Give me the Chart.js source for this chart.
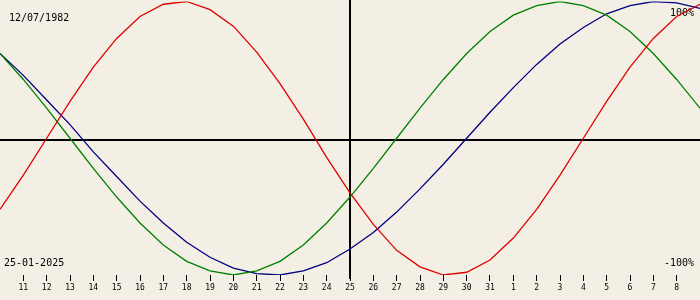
<!DOCTYPE html>
<html>
<head>
<meta charset="utf-8">
<script src="https://cdn.jsdelivr.net/npm/chart.js@4/dist/chart.umd.min.js"></script>
<style>
  html, body { margin: 0; padding: 0; background: #f3efe4; }
  canvas { display: block; }
</style>
</head>
<body>
<canvas id="bio" width="700" height="300"></canvas>
<script>
// days relative to today (25-01-2025)
const dayOffsets = [-15, -14, -13, -12, -11, -10, -9, -8, -7, -6, -5, -4, -3, -2, -1, 0,
  1, 2, 3, 4, 5, 6, 7, 8, 9, 10, 11, 12, 13, 14, 15];

// percent values
const physical = [-52, -27, 0, 27, 52, 73, 89, 98, 100, 94, 82, 63, 40, 14, -14, -40,
  -63, -82, -94, -100, -98, -89, -73, -52, -27, 0, 27, 52, 73, 89, 98];
const emotional = [62, 43, 22, 0, -22, -43, -62, -78, -90, -97, -100, -97, -90, -78, -62, -43,
  -22, 0, 22, 43, 62, 78, 90, 97, 100, 97, 90, 78, 62, 43, 22];
const intellectual = [62, 46, 28, 10, -10, -28, -46, -62, -76, -87, -95, -99, -100, -97, -91, -81,
  -69, -54, -37, -19, 0, 19, 37, 54, 69, 81, 91, 97, 100, 99, 95];

// tick marks and their day-of-month labels
const tickDays = [-14, -13, -12, -11, -10, -9, -8, -7, -6, -5, -4, -3, -2, -1, 0,
  1, 2, 3, 4, 5, 6, 7, 8, 9, 10, 11, 12, 13, 14];
const tickLabels = ['11', '12', '13', '14', '15', '16', '17', '18', '19', '20', '21', '22', '23', '24', '25',
  '26', '27', '28', '29', '30', '31', '1', '2', '3', '4', '5', '6', '7', '8'];

const birthDate = '12/07/1982';
const today = '25-01-2025';

const toPoints = vals => vals.map((v, i) => ({ x: dayOffsets[i], y: v }));

const overlay = {
  id: 'overlay',
  beforeDraw(chart) {
    const c = chart.ctx;
    c.save();
    c.fillStyle = '#f3efe4';
    c.fillRect(0, 0, chart.width, chart.height);
    c.restore();
  },
  beforeDatasetsDraw(chart) {
    const c = chart.ctx, a = chart.chartArea;
    const x0 = chart.scales.x.getPixelForValue(0);
    const y0 = chart.scales.y.getPixelForValue(0);
    c.save();
    c.strokeStyle = '#000';
    c.lineWidth = 2;
    c.beginPath();
    c.moveTo(0, Math.round(y0) + 2);
    c.lineTo(chart.width, Math.round(y0) + 2);
    c.moveTo(Math.round(x0), 0);
    c.lineTo(Math.round(x0), a.bottom + 4);
    c.stroke();

    c.fillStyle = '#000';
    c.font = '10px "DejaVu Sans Mono"';
    c.textBaseline = 'alphabetic';
    c.textAlign = 'left';
    c.fillText(birthDate, 9, 21);
    c.fillText(today, 4, 266);
    c.textAlign = 'right';
    c.fillText('100%', 694, 16);
    c.fillText('-100%', 694, 266);
    c.restore();
  }
};

new Chart(document.getElementById('bio'), {
  type: 'line',
  data: {
    datasets: [
      { label: 'Physical', data: toPoints(physical), borderColor: '#e00000' },
      { label: 'Emotional', data: toPoints(emotional), borderColor: '#008000' },
      { label: 'Intellectual', data: toPoints(intellectual), borderColor: '#000080' }
    ]
  },
  options: {
    responsive: false,
    animation: false,
    devicePixelRatio: 1,
    layout: { padding: { top: 1.5, left: 0, right: 0, bottom: 0 } },
    elements: {
      line: { borderWidth: 1.3, tension: 0, fill: false },
      point: { radius: 0, hoverRadius: 0 }
    },
    plugins: { legend: { display: false }, tooltip: { enabled: false } },
    scales: {
      x: {
        type: 'linear',
        min: -15,
        max: 15,
        afterBuildTicks: s => { s.ticks = tickDays.map(v => ({ value: v })); },
        afterFit: s => { s.height = 25; },
        border: { display: false },
        grid: { drawOnChartArea: false, drawTicks: true, tickLength: 6, tickColor: '#000', tickWidth: 1 },
        ticks: {
          autoSkip: false,
          maxRotation: 0,
          padding: 2,
          color: '#000',
          font: { family: 'DejaVu Sans Mono', size: 8 },
          callback: (v) => tickLabels[tickDays.indexOf(v)]
        }
      },
      y: { display: false, min: -100, max: 100 }
    }
  },
  plugins: [overlay]
});
</script>
</body>
</html>
